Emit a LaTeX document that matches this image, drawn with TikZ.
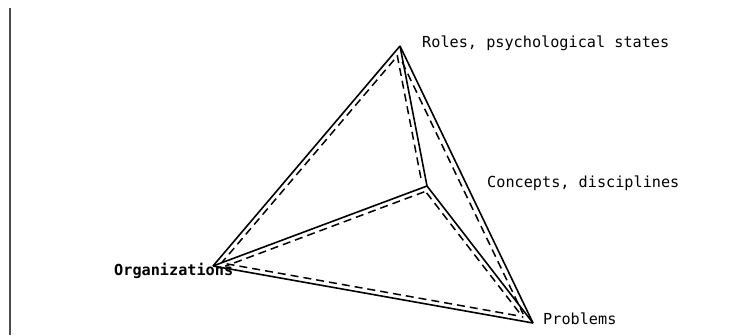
\documentclass[tikz,border=0pt]{standalone}
\usepackage{fontspec}
\newfontfamily\dotfont{DejaVu Sans Mono}
\usetikzlibrary{calc}
\begin{document}
\begin{tikzpicture}[x=1pt, y=-1pt, every node/.style={font=\dotfont\fontsize{15.2}{18}\selectfont, inner sep=0pt},
    edge/.style={line width=1.6pt, line join=miter},
    ghost/.style={line width=1.5pt, dash pattern=on 8pt off 5pt}]
        \useasboundingbox (0, 0) rectangle (754, 335);
        % Margin rule
            \draw[line width=1.6pt, black!70] (10, 8) -- (10, 335);
        % Corners of the tetrahedron
            \coordinate (top)    at (400, 46);
            \coordinate (centre) at (427, 186);
            \coordinate (left)   at (213, 266);
            \coordinate (bottom) at (533, 323);
        % Labels
            \node[anchor=west] (roles)    at (422, 43)  {Roles, psychological states};
            \node[anchor=west] (concepts) at (487, 183) {Concepts, disciplines};
            \node[anchor=west, font=\dotfont\bfseries\fontsize{15.2}{18}\selectfont] (orgs) at (114, 271) {Organizations};
            \node[anchor=west] (problems) at (543, 319) {Problems};
        % Solid edges
            \draw[edge] (top) -- (left);
            \draw[edge] (top) -- (centre);
            \draw[edge] (top) -- (bottom);
            \draw[edge] (centre) -- (left);
            \draw[edge] (centre) -- (bottom);
            \draw[edge] (left) -- (bottom);
        % Dashed edges, set a little inside each face
            \draw[ghost] ($(top)!0.05!(left)!4.5pt!90:(left)$) -- ($(left)!0.03!(top)!4.5pt!-90:(top)$);
            \draw[ghost] ($(top)!0.06!(centre)!4.5pt!-90:(centre)$) -- ($(centre)!0.04!(top)!4.5pt!90:(top)$);
            \draw[ghost] ($(top)!0.05!(bottom)!5pt!-90:(bottom)$) -- ($(bottom)!0.04!(top)!5pt!90:(top)$);
            \draw[ghost] ($(centre)!0.02!(left)!4.5pt!90:(left)$) -- ($(left)!0.05!(centre)!4.5pt!-90:(centre)$);
            \draw[ghost] ($(centre)!0.03!(bottom)!4.5pt!-90:(bottom)$) -- ($(bottom)!0.06!(centre)!4.5pt!90:(centre)$);
            \draw[ghost] ($(left)!0.04!(bottom)!4.5pt!90:(bottom)$) -- ($(bottom)!0.05!(left)!4.5pt!-90:(left)$);
        \end{tikzpicture}
\end{document}
